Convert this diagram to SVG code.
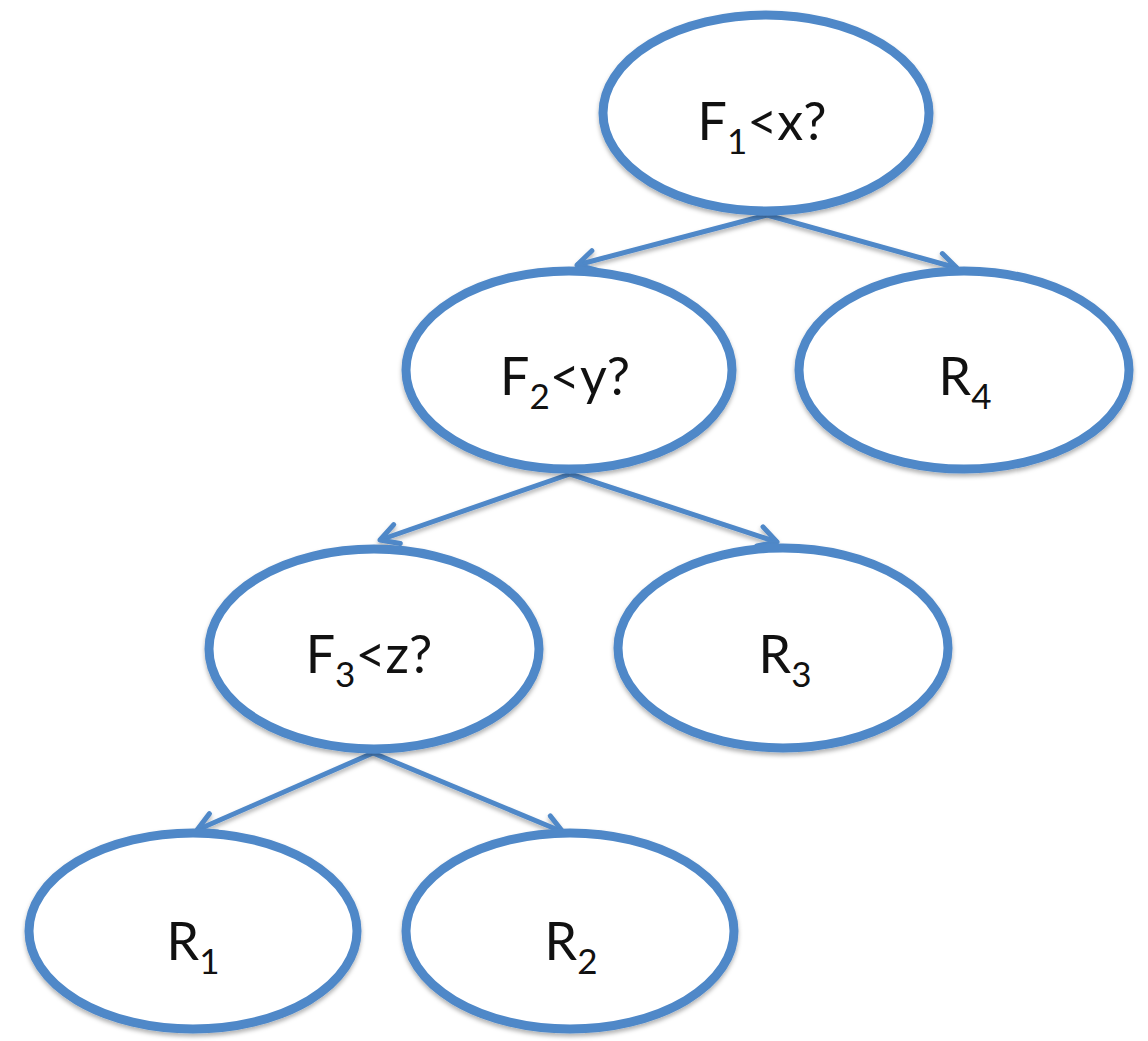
<svg xmlns="http://www.w3.org/2000/svg" width="1148" height="1041" viewBox="0 0 1148 1041">
<defs>
<style>
.node ellipse{fill:#fff;stroke:#4F88C8;stroke-width:9;filter:url(#sh)}
.lbl{font-family:Lato,"Open Sans","Liberation Sans",sans-serif;font-size:52px;fill:#111;text-anchor:middle}
.sub{font-size:35px}
.edge{stroke:#4F88C8;stroke-width:5;fill:none;marker-end:url(#ah);filter:url(#sh)}
</style>
<filter id="sh" x="-10%" y="-10%" width="120%" height="130%">
<feDropShadow dx="0" dy="3" stdDeviation="2" flood-color="#000" flood-opacity="0.3"/>
</filter>
<marker id="ah" viewBox="0 0 26 26" refX="23" refY="13" markerWidth="26" markerHeight="26" markerUnits="userSpaceOnUse" orient="auto">
<path d="M5,3 L23,13 L5,23" fill="none" stroke="#4F88C8" stroke-width="5" stroke-linecap="round" stroke-linejoin="round"/>
</marker>
</defs>
<g id="connectors">
<line class="edge" x1="767" y1="215" x2="577" y2="265"/>
<line class="edge" x1="767" y1="215" x2="957" y2="268"/>
<line class="edge" x1="570" y1="474" x2="380" y2="540"/>
<line class="edge" x1="570" y1="474" x2="777" y2="542"/>
<line class="edge" x1="373" y1="753" x2="197" y2="830"/>
<line class="edge" x1="373" y1="753" x2="563" y2="832"/>
</g>
<g id="F1" class="node"><ellipse cx="766" cy="113" rx="163" ry="98"/><text class="lbl" x="762" y="140">F<tspan class="sub" dy="14">1</tspan><tspan dy="-14">&lt;x?</tspan></text></g>
<g id="F2" class="node"><ellipse cx="569" cy="370" rx="163" ry="99"/><text class="lbl" x="565" y="395">F<tspan class="sub" dy="14">2</tspan><tspan dy="-14">&lt;y?</tspan></text></g>
<g id="R4" class="node"><ellipse cx="964" cy="370" rx="165" ry="99"/><text class="lbl" x="965" y="395">R<tspan class="sub" dy="14">4</tspan></text></g>
<g id="F3" class="node"><ellipse cx="374" cy="649" rx="165" ry="100"/><text class="lbl" x="369" y="673">F<tspan class="sub" dy="14">3</tspan><tspan dy="-14">&lt;z?</tspan></text></g>
<g id="R3" class="node"><ellipse cx="783" cy="648" rx="165" ry="100"/><text class="lbl" x="785" y="673">R<tspan class="sub" dy="14">3</tspan></text></g>
<g id="R1" class="node"><ellipse cx="193" cy="931" rx="164" ry="98"/><text class="lbl" x="193" y="960">R<tspan class="sub" dy="14">1</tspan></text></g>
<g id="R2" class="node"><ellipse cx="570" cy="931" rx="164" ry="98"/><text class="lbl" x="571" y="960">R<tspan class="sub" dy="14">2</tspan></text></g>
</svg>
